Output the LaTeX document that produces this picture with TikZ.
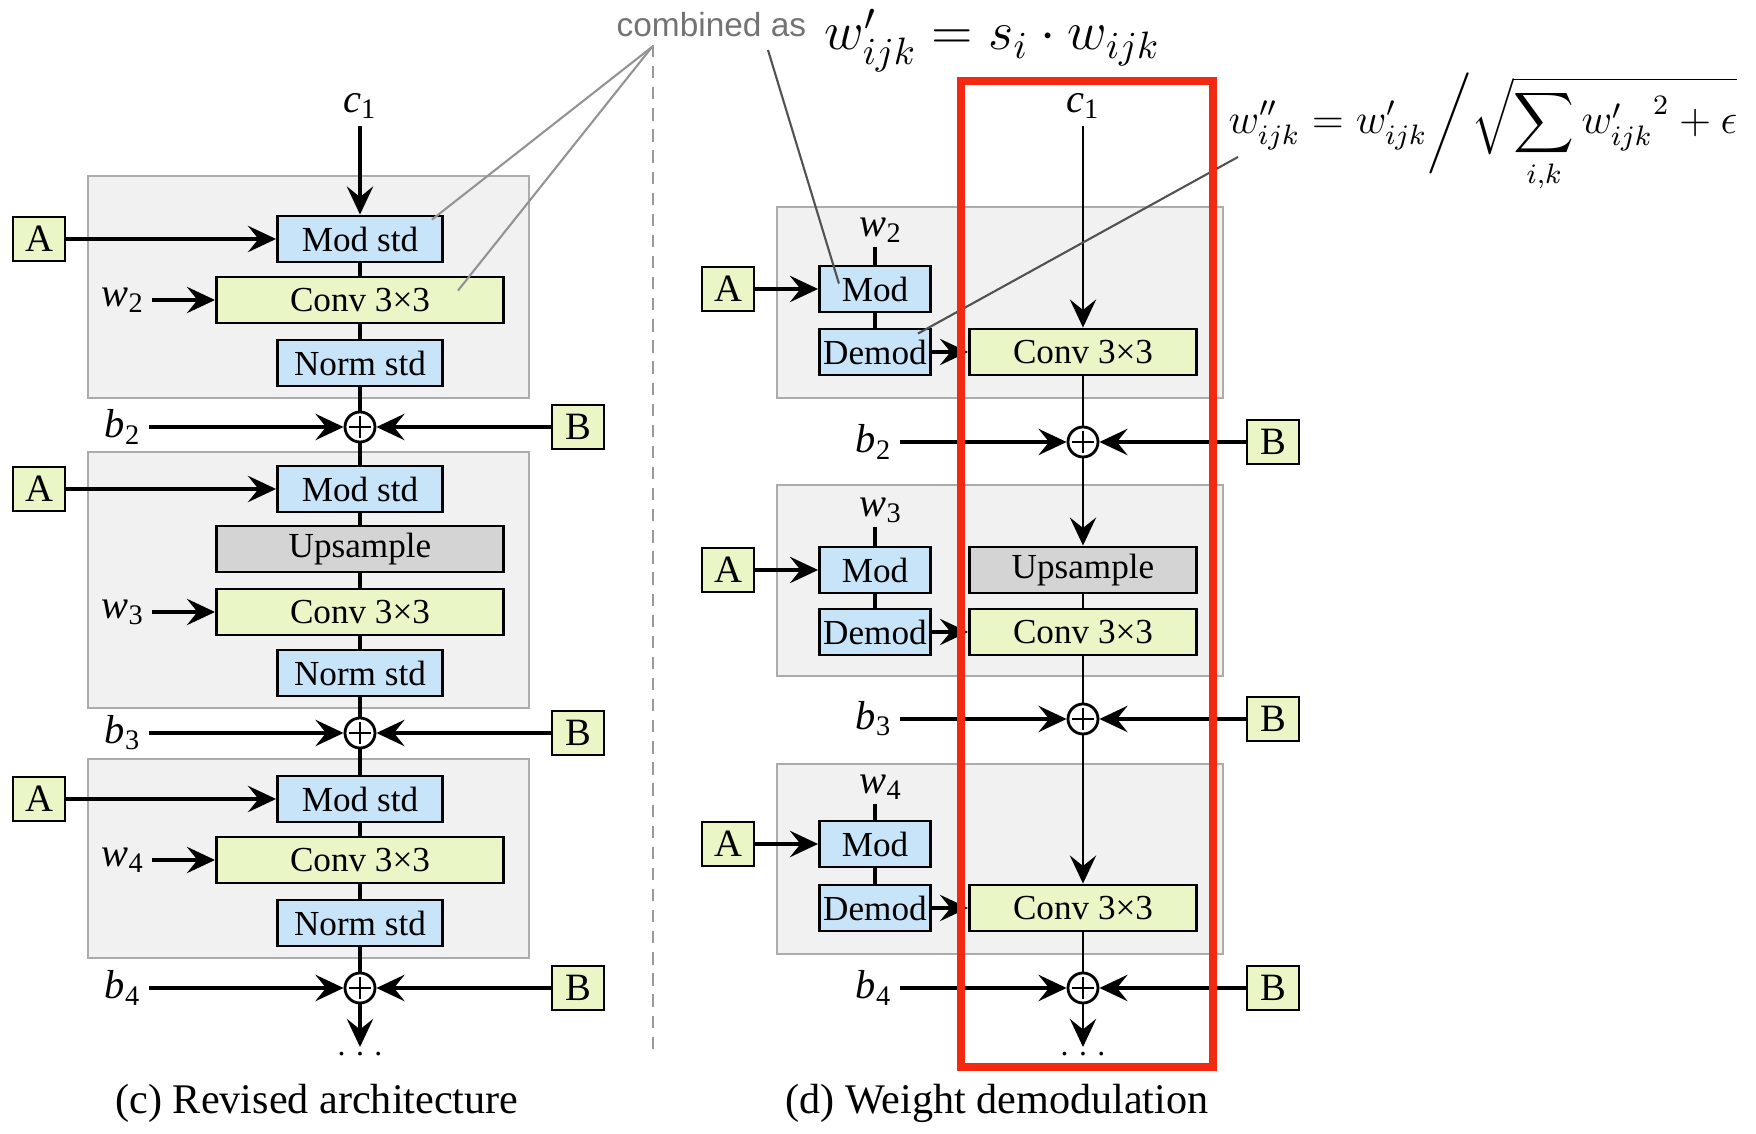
\RequirePackage{fix-cm}
\documentclass[tikz,border=0pt]{standalone}
\usepackage[no-math]{fontspec}
\usepackage{amsmath}
\setmainfont{Liberation Serif}
\newfontfamily\notefont{Liberation Sans}
\usetikzlibrary{arrows.meta,positioning}

\definecolor{modblue}{RGB}{200,228,248}
\definecolor{convgreen}{RGB}{234,246,198}
\definecolor{upgray}{RGB}{212,212,212}
\definecolor{stagefill}{RGB}{241,241,241}
\definecolor{stageline}{RGB}{172,172,172}
\definecolor{hired}{RGB}{242,42,18}

\newcommand{\isub}[2]{\textit{#1}\textsubscript{#2}}

\tikzset{
  modbox/.style={draw, line width=0.8pt, fill=modblue, minimum width=1.65cm,
    minimum height=0.46cm, inner sep=0pt},
  convbox/.style={modbox, fill=convgreen, minimum width=2.87cm},
  upbox/.style={convbox, fill=upgray},
  smallbox/.style={modbox, minimum width=1.11cm},
  rconvbox/.style={convbox, minimum width=2.27cm},
  rupbox/.style={upbox, minimum width=2.27cm},
  inbox/.style={draw, line width=0.8pt, fill=convgreen, minimum width=0.52cm,
    minimum height=0.44cm, inner sep=0pt, font=\fontsize{11}{13}\selectfont},
  stage/.style={draw=stageline, fill=stagefill, line width=0.7pt},
  adder/.style={circle, draw, line width=0.8pt, fill=white, minimum size=0.3cm,
    inner sep=0pt, path picture={
      \draw[line width=0.45pt]
        ([xshift=-0.11cm]path picture bounding box.center) -- ([xshift=0.11cm]path picture bounding box.center)
        ([yshift=-0.11cm]path picture bounding box.center) -- ([yshift=0.11cm]path picture bounding box.center);}},
  lbl/.style={font=\fontsize{11.5}{13}\selectfont, inner sep=2pt},
  flow/.style={line width=0.9pt, -{Stealth[length=8pt, width=7.5pt, inset=3pt]}},
  thinflow/.style={line width=0.6pt, -{Stealth[length=8pt, width=7.5pt, inset=3pt]}},
  link/.style={line width=0.9pt},
  thinlink/.style={line width=0.6pt},
  note/.style={draw=black!42, line width=0.6pt},
  darknote/.style={draw=black!68, line width=0.6pt},
  divider/.style={draw=black!40, line width=0.8pt, dash pattern=on 3.5pt off 2.5pt},
  caption/.style={font=\fontsize{12}{14}\selectfont},
  hilite/.style={draw=hired, line width=2pt}
}

\begin{document}
\begin{tikzpicture}[x=0.01cm, y=-0.01cm, font=\fontsize{10}{12}\selectfont]
\useasboundingbox (0,0) rectangle (1756,1134);

% gray stages
\draw[stage] (88,176) rectangle (529,398);
\draw[stage] (88,452) rectangle (529,708);
\draw[stage] (88,759) rectangle (529,958);
\draw[stage] (777,207) rectangle (1223,398);
\draw[stage] (777,485) rectangle (1223,676);
\draw[stage] (777,764) rectangle (1223,954);

\draw[divider] (653,45) -- (653,1053);

% (c) stage 1
\node[lbl] (cL) at (360,106) {\isub{c}{1}};
\node[inbox] (aL1) at (39,239) {A};
\node[modbox] (modL1) at (360,239) {Mod std};
\node[lbl] (wL2) at (123,300) {\isub{w}{2}};
\node[convbox] (convL1) at (360,300) {Conv 3×3};
\node[modbox] (normL1) at (360,363) {Norm std};
\node[lbl] (bL2) at (123,427) {\isub{b}{2}};
\node[adder] (addL2) at (360,427) {};
\node[inbox] (BL2) at (578,427) {B};
\draw[flow] (cL) -- (modL1);
\draw[flow] (aL1) -- (modL1);
\draw[flow] (wL2) -- (convL1);
\draw[link] (modL1) -- (convL1) -- (normL1) -- (addL2);
\draw[flow] (bL2) -- (addL2);
\draw[flow] (BL2) -- (addL2);

% (c) stage 2
\node[inbox] (aL2) at (39,489) {A};
\node[modbox] (modL2) at (360,489) {Mod std};
\node[upbox] (upL2) at (360,549) {Upsample};
\node[lbl] (wL3) at (123,612) {\isub{w}{3}};
\node[convbox] (convL2) at (360,612) {Conv 3×3};
\node[modbox] (normL2) at (360,673) {Norm std};
\node[lbl] (bL3) at (123,733) {\isub{b}{3}};
\node[adder] (addL3) at (360,733) {};
\node[inbox] (BL3) at (578,733) {B};
\draw[link] (addL2) -- (modL2) -- (upL2) -- (convL2) -- (normL2) -- (addL3);
\draw[flow] (aL2) -- (modL2);
\draw[flow] (wL3) -- (convL2);
\draw[flow] (bL3) -- (addL3);
\draw[flow] (BL3) -- (addL3);

% (c) stage 3
\node[inbox] (aL3) at (39,799) {A};
\node[modbox] (modL3) at (360,799) {Mod std};
\node[lbl] (wL4) at (123,860) {\isub{w}{4}};
\node[convbox] (convL3) at (360,860) {Conv 3×3};
\node[modbox] (normL3) at (360,923) {Norm std};
\node[lbl] (bL4) at (123,988) {\isub{b}{4}};
\node[adder] (addL4) at (360,988) {};
\node[inbox] (BL4) at (578,988) {B};
\coordinate (endL) at (360,1047);
\node[font=\small] (dotsL) at (360,1054) {. . .};
\draw[link] (addL3) -- (modL3) -- (convL3) -- (normL3) -- (addL4);
\draw[flow] (aL3) -- (modL3);
\draw[flow] (wL4) -- (convL3);
\draw[flow] (bL4) -- (addL4);
\draw[flow] (BL4) -- (addL4);
\draw[flow] (addL4) -- (endL);
\node[caption] (capL) at (317,1103) {(c) Revised architecture};

% (d) stage 1
\node[lbl] (cR) at (1083,106) {\isub{c}{1}};
\node[lbl, inner sep=1pt] (wR2) at (881,230) {\isub{w}{2}};
\node[inbox] (aR1) at (728,289) {A};
\node[smallbox] (modR1) at (875,289) {Mod};
\node[smallbox] (demodR1) at (875,352) {Demod};
\node[rconvbox] (convR1) at (1083,352) {Conv 3×3};
\node[lbl] (bR2) at (874,442) {\isub{b}{2}};
\node[adder] (addR2) at (1083,442) {};
\node[inbox] (BR2) at (1273,442) {B};
\draw[thinflow] (cR) -- (convR1);
\draw[link] (modR1.north |- wR2.south) -- (modR1) -- (demodR1);
\draw[flow] (aR1) -- (modR1);
\draw[flow] (demodR1) -- (convR1);
\draw[thinlink] (convR1) -- (addR2);
\draw[flow] (bR2) -- (addR2);
\draw[flow] (BR2) -- (addR2);

% (d) stage 2
\node[lbl, inner sep=1pt] (wR3) at (881,510) {\isub{w}{3}};
\node[inbox] (aR2) at (728,570) {A};
\node[smallbox] (modR2) at (875,570) {Mod};
\node[smallbox] (demodR2) at (875,632) {Demod};
\node[rupbox] (upR2) at (1083,570) {Upsample};
\node[rconvbox] (convR2) at (1083,632) {Conv 3×3};
\node[lbl] (bR3) at (874,719) {\isub{b}{3}};
\node[adder] (addR3) at (1083,719) {};
\node[inbox] (BR3) at (1273,719) {B};
\draw[thinflow] (addR2) -- (upR2);
\draw[thinlink] (upR2) -- (convR2) -- (addR3);
\draw[link] (modR2.north |- wR3.south) -- (modR2) -- (demodR2);
\draw[flow] (aR2) -- (modR2);
\draw[flow] (demodR2) -- (convR2);
\draw[flow] (bR3) -- (addR3);
\draw[flow] (BR3) -- (addR3);

% (d) stage 3
\node[lbl, inner sep=1pt] (wR4) at (881,787) {\isub{w}{4}};
\node[inbox] (aR3) at (728,844) {A};
\node[smallbox] (modR3) at (875,844) {Mod};
\node[smallbox] (demodR3) at (875,908) {Demod};
\node[rconvbox] (convR3) at (1083,908) {Conv 3×3};
\node[lbl] (bR4) at (874,988) {\isub{b}{4}};
\node[adder] (addR4) at (1083,988) {};
\node[inbox] (BR4) at (1273,988) {B};
\coordinate (endR) at (1083,1047);
\node[font=\small] (dotsR) at (1083,1054) {. . .};
\draw[thinflow] (addR3) -- (convR3);
\draw[thinlink] (convR3) -- (addR4);
\draw[link] (modR3.north |- wR4.south) -- (modR3) -- (demodR3);
\draw[flow] (aR3) -- (modR3);
\draw[flow] (demodR3) -- (convR3);
\draw[flow] (bR4) -- (addR4);
\draw[flow] (BR4) -- (addR4);
\draw[thinflow] (addR4) -- (endR);
\node[caption] (capR) at (997,1103) {(d) Weight demodulation};

% annotations
\node[anchor=base west, inner sep=0pt, text=black!55,
  font=\notefont\fontsize{9.5}{11}\selectfont] (comb) at (616,37) {combined as};
\node[anchor=base west, inner sep=0pt] (eqmod) at (824,50)
  {\fontsize{15.5}{18}\selectfont $w'_{ijk} = s_i \cdot w_{ijk}$};
\node[anchor=base west, inner sep=0pt] (eqdemod) at (1228,134)
  {\fontsize{12}{14}\selectfont $\displaystyle w''_{ijk} = w'_{ijk} \bigg/ \sqrt{\smash[b]{\sum_{i,k}}\, {w'_{ijk}}^{2} + \epsilon}$};
\coordinate (combL) at (652,47);
\coordinate (combR) at (768,50);
\coordinate (eqfoot) at (1238,157);
\draw[note] (combL) -- ([shift={(-12,5)}]modL1.north east);
\draw[note] (combL) -- ([shift={(-47,15)}]convL1.north east);
\draw[darknote] (combR) -- ([shift={(-93,19)}]modR1.north east);
\draw[darknote] (eqfoot) -- ([shift={(-14,6)}]demodR1.north east);

% highlight
\draw[hilite] (961,81) rectangle (1213,1067);
\end{tikzpicture}
\end{document}
